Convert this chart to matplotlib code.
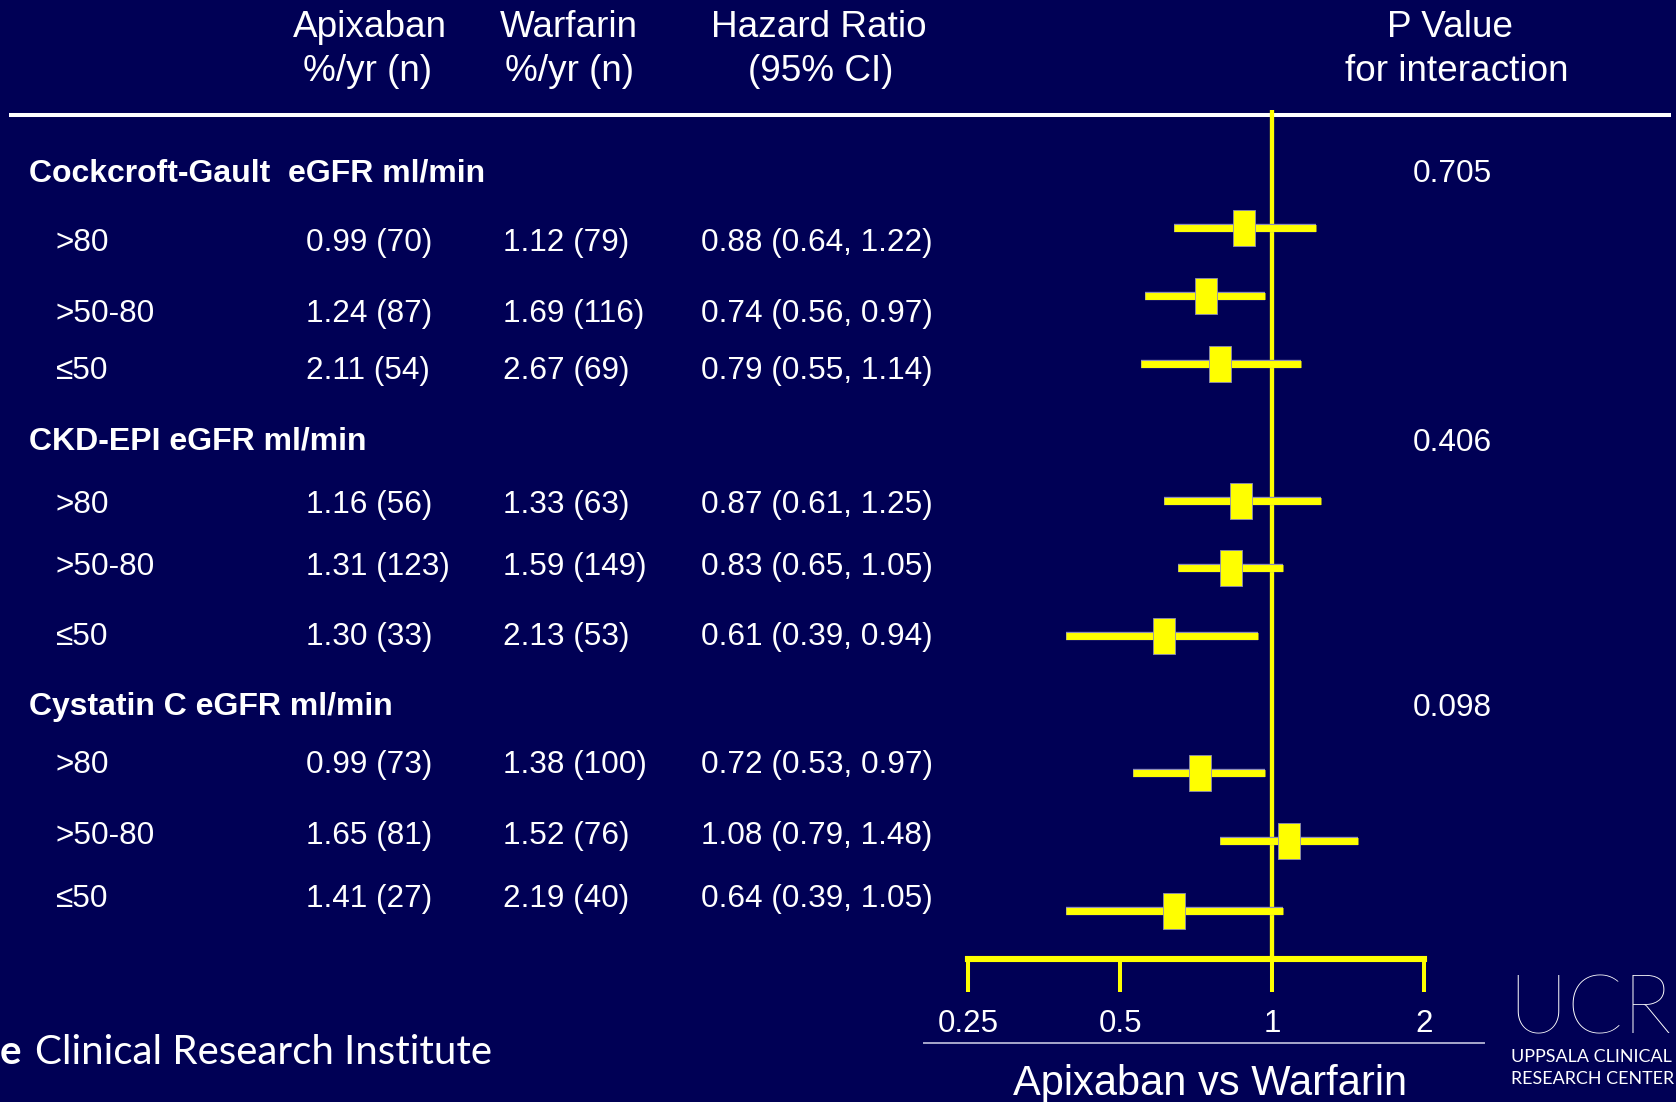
import matplotlib
matplotlib.use("Agg")
import matplotlib.pyplot as plt
from matplotlib import patheffects as pe
from matplotlib.ticker import FixedLocator, FixedFormatter, NullLocator

# ---- data -------------------------------------------------------------
groups = ["Cockcroft-Gault  eGFR ml/min", "CKD-EPI eGFR ml/min", "Cystatin C eGFR ml/min"]
p_interaction = ["0.705", "0.406", "0.098"]
subgroups = [">80", ">50-80", "\u226450"] * 3
apix_rate = [0.99, 1.24, 2.11, 1.16, 1.31, 1.30, 0.99, 1.65, 1.41]
apix_n = [70, 87, 54, 56, 123, 33, 73, 81, 27]
warf_rate = [1.12, 1.69, 2.67, 1.33, 1.59, 2.13, 1.38, 1.52, 2.19]
warf_n = [79, 116, 69, 63, 149, 53, 100, 76, 40]
hr = [0.88, 0.74, 0.79, 0.87, 0.83, 0.61, 0.72, 1.08, 0.64]
ci_low = [0.64, 0.56, 0.55, 0.61, 0.65, 0.39, 0.53, 0.79, 0.39]
ci_high = [1.22, 0.97, 1.14, 1.25, 1.05, 0.94, 0.97, 1.48, 1.05]
axis_ticks = [0.25, 0.5, 1, 2]
axis_ticklabels = ["0.25", "0.5", "1", "2"]

# ---- layout (pixel rows, measured from the top) -----------------------
W, H = 1676, 1102
group_y = [181, 450, 715]
row_text_y = [251, 322, 379, 513, 575, 645, 773, 844, 907]
row_mark_y = [228, 296, 364, 501, 568, 636, 773, 841, 911]
col_label_x, col_apix_x, col_warf_x, col_hr_x, col_p_x = 55, 306, 503, 701, 1413

BG = "#000055"
YEL = "#FFFF00"
EDGE = "#8c8cb8"
FONT = ["Liberation Sans", "DejaVu Sans"]
LOGO = ["Lato", "DejaVu Sans"]

plt.rcParams["font.family"] = FONT

fig = plt.figure(figsize=(W / 100, H / 100), dpi=100, facecolor=BG)

# text layer in pixel coordinates
tx = fig.add_axes([0, 0, 1, 1])
tx.set_xlim(0, W)
tx.set_ylim(H, 0)
tx.axis("off")
tx.set_zorder(1)

def txt(x, y, s, size, ha="left", weight="normal", color="white", family=FONT):
    tx.text(x, y, s, fontsize=size, ha=ha, va="baseline", color=color,
            fontweight=weight, family=family)

# column headers
HS = 26.6
txt(370, 37, "Apixaban", HS, ha="center")
txt(367, 81, "%/yr (n)", HS, ha="center")
txt(569, 37, "Warfarin", HS, ha="center")
txt(569, 81, "%/yr (n)", HS, ha="center")
txt(819, 37, "Hazard Ratio", HS, ha="center")
txt(821, 81, "(95% CI)", HS, ha="center")
txt(1450, 37, "P Value", HS, ha="center")
txt(1457, 81, "for interaction", HS, ha="center")
tx.plot([9, 1671], [115, 115], color="white", lw=2.9, solid_capstyle="butt")

# table body
RS = 22.7
for g, (name, p) in enumerate(zip(groups, p_interaction)):
    txt(29, group_y[g], name, 23.0, weight="bold")
    txt(col_p_x, group_y[g] + 1, p, RS)
for i in range(len(hr)):
    y = row_text_y[i]
    txt(col_label_x, y, subgroups[i], RS)
    txt(col_apix_x, y, f"{apix_rate[i]:.2f} ({apix_n[i]})", RS)
    txt(col_warf_x, y, f"{warf_rate[i]:.2f} ({warf_n[i]})", RS)
    txt(col_hr_x, y, f"{hr[i]:.2f} ({ci_low[i]:.2f}, {ci_high[i]:.2f})", RS)

# axis caption and separator
tx.plot([924, 1484], [1043, 1043], color="#a8a8cc", lw=1.4)
txt(1210, 1095, "Apixaban vs Warfarin", 30, ha="center")

# logos
txt(0, 1064, "e", 29, weight="bold", family=LOGO)
txt(35, 1064, "Clinical Research Institute", 29, family=LOGO)
tx.text(1508, 1034, "UCR", fontsize=59, ha="left", va="baseline", color="white",
        family=LOGO, fontweight="light")
txt(1511, 1062, "UPPSALA CLINICAL", 12.9, family=LOGO)
txt(1511, 1084, "RESEARCH CENTER", 12.9, family=LOGO)

# ---- forest plot ------------------------------------------------------
x0, x1 = 968, 1424
y_top, y_axis = 110, 959
ax = fig.add_axes([x0 / W, (H - y_axis) / H, (x1 - x0) / W, (y_axis - y_top) / H])
ax.set_zorder(2)
ax.patch.set_alpha(0)
ax.set_xscale("log", base=2)
ax.set_xlim(axis_ticks[0], axis_ticks[-1])
ax.set_ylim(y_axis, y_top)
for side in ("top", "left", "right"):
    ax.spines[side].set_visible(False)
ax.spines["bottom"].set_color(YEL)
ax.spines["bottom"].set_linewidth(4.4)
ax.spines["bottom"].set_capstyle("projecting")
ax.yaxis.set_major_locator(NullLocator())
ax.xaxis.set_major_locator(FixedLocator(axis_ticks))
ax.xaxis.set_major_formatter(FixedFormatter(axis_ticklabels))
ax.xaxis.set_minor_locator(NullLocator())
ax.tick_params(axis="x", direction="out", length=23.5, width=2.9, color=YEL,
               labelcolor="white", labelsize=22.5, pad=12.5)

ax.axvline(1, color=YEL, lw=3.1, zorder=2)

stroke = [pe.Stroke(linewidth=6.0, foreground=EDGE), pe.Normal()]
ax.hlines(row_mark_y, ci_low, ci_high, color=YEL, lw=5.0, zorder=3,
          path_effects=stroke, clip_on=False)
box = [(-23 / 36, -1), (23 / 36, -1), (23 / 36, 1), (-23 / 36, 1), (-23 / 36, -1)]
ax.plot(hr, row_mark_y, linestyle="none", marker=box, markersize=25.9,
        markerfacecolor=YEL, markeredgecolor=EDGE, markeredgewidth=0.6,
        zorder=4, clip_on=False)

fig.savefig("out.png", dpi=100, facecolor=BG)
